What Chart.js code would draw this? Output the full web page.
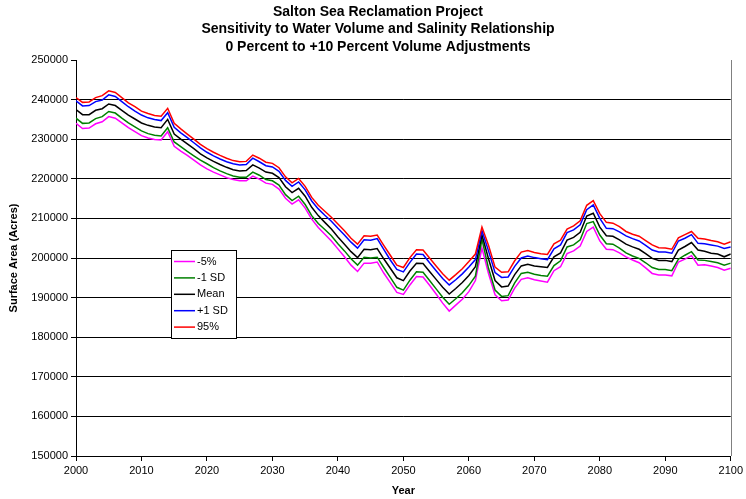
<!DOCTYPE html>
<html><head><meta charset="utf-8">
<script src="https://cdn.jsdelivr.net/npm/chart.js@4.4.0/dist/chart.umd.min.js"></script>
<style>html,body{margin:0;padding:0;background:#fff;}#wrap{width:746px;height:499px;}</style>
</head><body><div id="wrap"><canvas id="c" width="746" height="499"></canvas></div>
<script>
const titleLines = ["Salton Sea Reclamation Project","Sensitivity to Water Volume and Salinity Relationship","0 Percent to +10 Percent Volume Adjustments"];
const seriesNames = ["-5%","-1 SD","Mean","+1 SD","95%"];
const seriesColors = ["#FF00FF","#008000","#000000","#0000FF","#FF0000"];
const years = [2000,2001,2002,2003,2004,2005,2006,2007,2008,2009,2010,2011,2012,2013,2014,2015,2016,2017,2018,2019,2020,2021,2022,2023,2024,2025,2026,2027,2028,2029,2030,2031,2032,2033,2034,2035,2036,2037,2038,2039,2040,2041,2042,2043,2044,2045,2046,2047,2048,2049,2050,2051,2052,2053,2054,2055,2056,2057,2058,2059,2060,2061,2062,2063,2064,2065,2066,2067,2068,2069,2070,2071,2072,2073,2074,2075,2076,2077,2078,2079,2080,2081,2082,2083,2084,2085,2086,2087,2088,2089,2090,2091,2092,2093,2094,2095,2096,2097,2098,2099,2100];
const xTicks = [2000,2010,2020,2030,2040,2050,2060,2070,2080,2090,2100];
const yTicks = [150000,160000,170000,180000,190000,200000,210000,220000,230000,240000,250000];

const minus5 = [
234000,232700,232800,233900,234400,235700,235300,234100,232900,231900,
230900,230300,229900,229800,231900,228200,227000,225900,224700,223500,
222500,221700,221000,220300,219800,219500,219500,220700,219900,218900,
218600,217400,215100,213600,214700,212600,209800,207700,206000,204300,
202300,200300,198200,196600,198700,198700,199000,196200,193800,191300,
190800,193200,195300,195200,193100,190900,188600,186600,188100,189600,
191500,194300,202500,196100,190700,189200,189400,192400,194600,195000,
194500,194200,193900,196800,197800,201100,201800,203000,206700,207800,
204300,202200,202100,201300,200300,199500,198800,197500,196100,195700,
195700,195500,199000,199700,200600,198200,198300,198000,197600,196900,
197400];
const minus1SD = [
235300,234000,234100,235200,235700,237000,236600,235300,234100,233100,
232100,231400,231000,230800,232900,229300,228100,226900,225800,224700,
223800,222800,222000,221300,220700,220400,220400,221700,220900,219800,
219500,218400,216000,214500,215600,213500,210700,208700,207200,205600,
203600,201800,199800,198200,200200,200000,200200,197600,195100,192600,
191900,194400,196500,196400,194300,192200,190100,188300,189700,191200,
193100,195400,204700,197400,191900,190300,190500,193700,196100,196400,
195900,195600,195400,198100,199300,202800,203300,204600,208700,209200,
205800,203600,203500,202500,201300,200500,199900,198800,197600,197100,
197100,196800,199700,200700,201600,199500,199400,199100,198800,198200,
198700];
const meanVals = [
237500,236200,236200,237300,237700,238900,238500,237300,236100,235100,
234100,233500,233100,232900,235000,231300,230000,228800,227600,226300,
225300,224400,223600,222900,222300,222000,222100,223500,222700,221700,
221400,220300,218000,216500,217600,215600,212800,210700,209000,207300,
205300,203500,201600,200100,202200,202100,202400,199800,197400,195000,
194300,196700,198700,198600,196600,194600,192600,190900,192300,193800,
195600,197800,205800,199800,194300,192700,192900,195800,198000,198400,
198000,197800,197600,200300,201300,204500,205200,206500,210600,211300,
207800,205600,205500,204600,203500,202800,202200,201100,199900,199400,
199400,199100,202000,202900,203900,202000,201700,201200,201000,200300,
201000];
const plus1SD = [
239700,238400,238500,239500,239900,241200,240800,239500,238200,237100,
236100,235400,235000,234700,236700,233000,231600,230400,229100,227800,
226700,225800,225000,224300,223800,223500,223600,225200,224300,223300,
223000,221900,219600,218100,219200,217200,214400,212400,210800,209300,
207500,205800,204000,202500,204600,204500,204900,202200,199500,197100,
196500,198900,201000,200900,198800,196800,194800,193200,194500,196000,
197700,199600,206900,201800,196300,195100,195200,197900,200000,200500,
200100,199800,199600,202300,203300,206400,207100,208400,212200,213400,
210000,207500,207400,206600,205600,204900,204300,203200,202000,201500,
201500,201200,204300,205000,205900,203700,203600,203300,203000,202400,
202800];
const pct95 = [
240500,239300,239400,240500,241000,242200,241800,240500,239200,238200,
237100,236500,236000,235800,237800,234000,232600,231300,230000,228700,
227600,226700,225900,225200,224600,224300,224400,226000,225200,224200,
223900,222800,220500,219000,220100,218100,215300,213300,211800,210300,
208600,206900,205000,203500,205600,205500,205800,203200,200700,198200,
197600,200100,202100,202000,200000,198000,196000,194400,195800,197300,
199100,201000,207800,203200,197700,196400,196500,199300,201500,201900,
201400,201100,200900,203600,204500,207300,208100,209400,213300,214500,
211200,209000,208800,207900,206700,206000,205500,204400,203300,202600,
202500,202200,205100,205900,206700,205000,204800,204400,204100,203500,
204100];

const seriesValues = [minus5, minus1SD, meanVals, plus1SD, pct95];
Chart.defaults.font.family = '"Liberation Sans", Arial, sans-serif';
Chart.defaults.color = '#000';

const datasets = seriesValues.map((vals, i) => ({
  label: seriesNames[i],
  data: years.map((yr, j) => ({x: yr, y: vals[j]})),
  borderColor: seriesColors[i],
  backgroundColor: seriesColors[i],
  borderWidth: 1.5,
  pointRadius: 0,
  tension: 0,
  fill: false,
  order: seriesValues.length - i
}));

const framePlugin = {
  id: 'frameAndLegend',
  afterDraw(chart) {
    const {ctx, chartArea: a} = chart;
    ctx.save();
    ctx.strokeStyle = '#808080';
    ctx.lineWidth = 1;
    ctx.beginPath();
    ctx.moveTo(Math.round(a.right) + 0.5, a.top);
    ctx.lineTo(Math.round(a.right) + 0.5, a.bottom);
    ctx.stroke();
    // legend box
    const bx = 171, by = 250, bw = 65, bh = 88;
    ctx.fillStyle = '#fff';
    ctx.fillRect(bx, by, bw, bh);
    ctx.strokeStyle = '#000';
    ctx.lineWidth = 1;
    ctx.strokeRect(bx + 0.5, by + 0.5, bw, bh);
    ctx.font = '11px "Liberation Sans", Arial, sans-serif';
    ctx.textBaseline = 'middle';
    ctx.textAlign = 'left';
    seriesNames.forEach((name, i) => {
      const yy = by + 11.5 + i * 16.4;
      ctx.strokeStyle = seriesColors[i];
      ctx.lineWidth = 1.5;
      ctx.beginPath();
      ctx.moveTo(bx + 3, yy);
      ctx.lineTo(bx + 24, yy);
      ctx.stroke();
      ctx.fillStyle = '#000';
      ctx.fillText(name, bx + 26, yy);
    });
    ctx.restore();
  }
};

new Chart(document.getElementById('c').getContext('2d'), {
  type: 'line',
  data: {datasets},
  options: {
    responsive: false,
    animation: false,
    layout: {padding: {left: 22, right: 12, top: 0, bottom: 0}},
    plugins: {
      legend: {display: false},
      tooltip: {enabled: false},
      title: {
        display: true, text: titleLines, color: '#000',
        font: {size: 14, weight: 'bold', lineHeight: 1.25},
        padding: {top: 3, bottom: 4.5}
      }
    },
    scales: {
      x: {
        type: 'linear', min: 2000, max: 2100,
        afterBuildTicks: s => { s.ticks = xTicks.map(v => ({value: v})); },
        ticks: {color: '#000', font: {size: 11}, padding: 3, maxRotation: 0, autoSkip: false, callback: v => String(v)},
        grid: {drawOnChartArea: false, drawTicks: true, tickLength: 5, color: '#000'},
        border: {display: true, color: '#000', width: 1},
        title: {display: true, text: 'Year', color: '#000', font: {size: 11, weight: 'bold'}, padding: {top: 2, bottom: 1}},
        afterFit: s => { s.height = 43; }
      },
      y: {
        min: 150000, max: 250000,
        afterBuildTicks: s => { s.ticks = yTicks.map(v => ({value: v})); },
        ticks: {color: '#000', font: {size: 11}, padding: 3, callback: v => String(v)},
        grid: {
          color: c => (c.tick && c.tick.value === 250000) ? 'rgba(0,0,0,0)' : '#000',
          tickColor: '#000', lineWidth: 1, drawTicks: true, tickLength: 5
        },
        border: {display: true, color: '#000', width: 1},
        title: {display: true, text: 'Surface Area (Acres)', color: '#000', font: {size: 11, weight: 'bold'}, padding: {top: -14.6, bottom: 0}},
        afterFit: s => { s.width = 54; }
      }
    }
  },
  plugins: [framePlugin]
});
</script>
</body></html>
